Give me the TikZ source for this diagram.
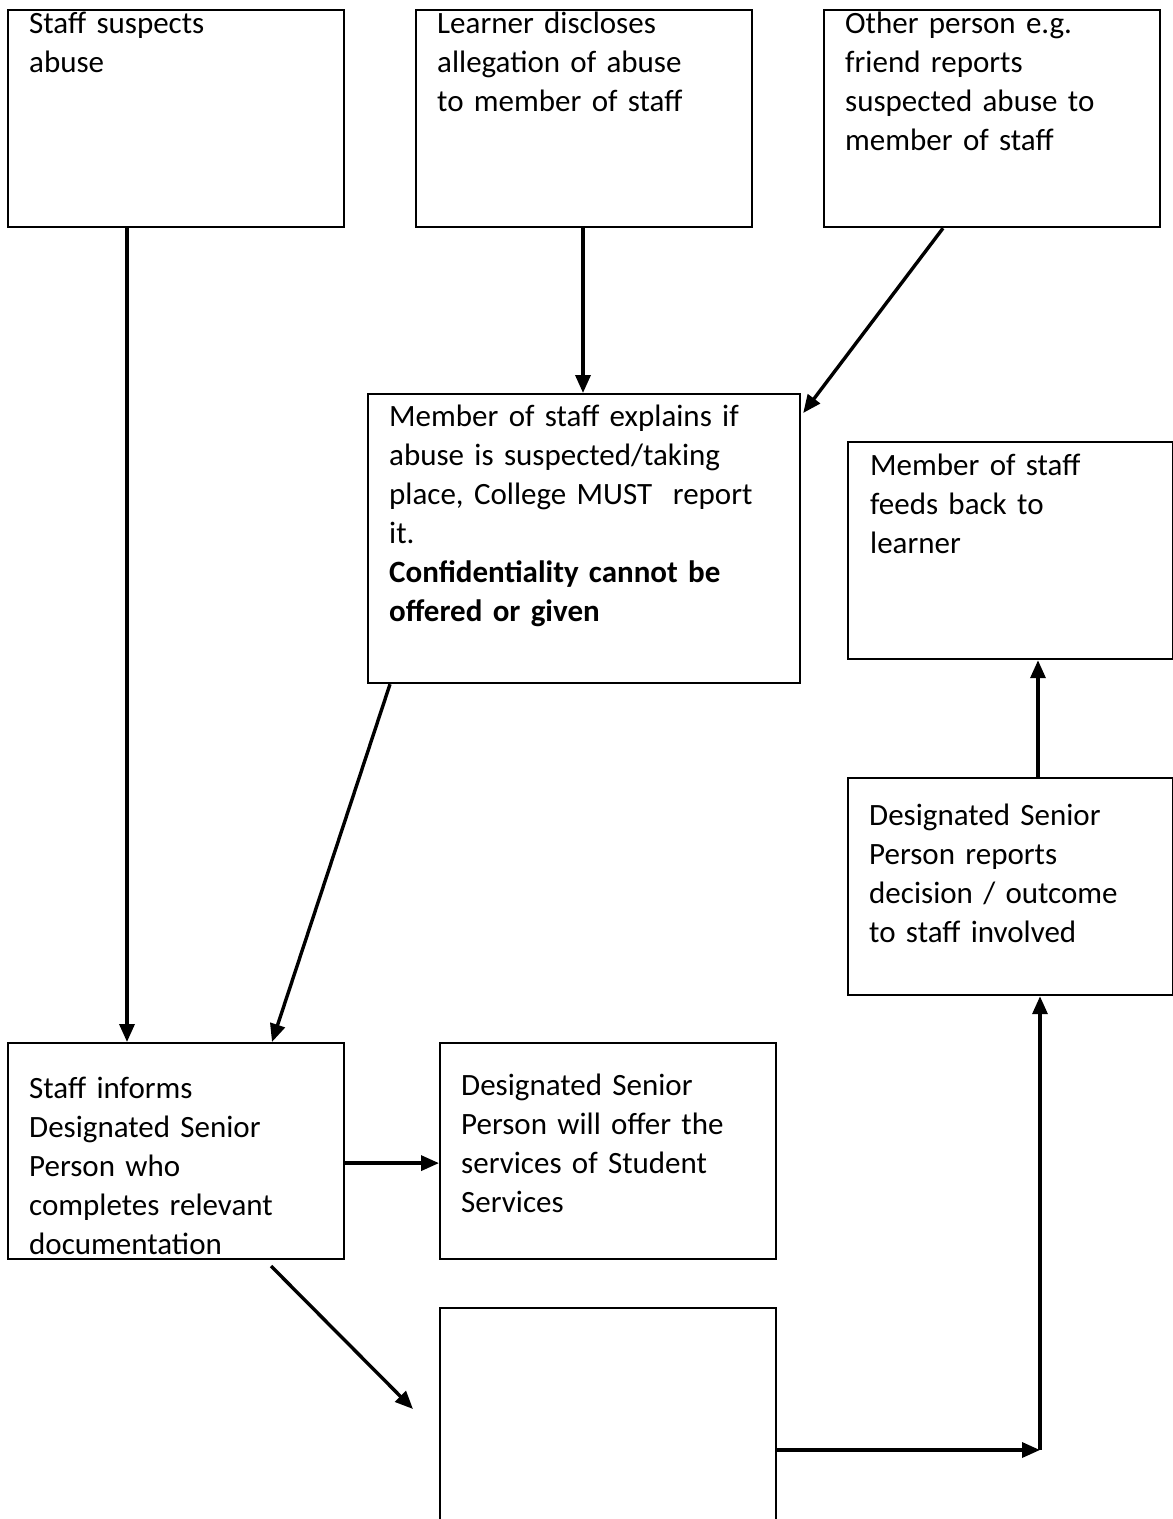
\documentclass[tikz,border=0pt]{standalone}
\usepackage{fontspec}
\setmainfont{Carlito}
\usetikzlibrary{arrows.meta,calc}

\begin{document}
\begin{tikzpicture}[x=1pt,y=-1pt,
    every node/.style={font=\fontsize{31}{39}\selectfont},
    box/.style={draw, line width=2.2pt, anchor=north west, inner sep=0pt},
    boxtext/.style={anchor=base west, align=left, inner sep=0pt, text width=300pt},
    flow/.style={line width=3.4pt, -{Triangle[length=18pt,width=15pt]}}]
    \useasboundingbox (0,0) rectangle (1173,1519);

    % Trois points de départ.
    \node[box, minimum width=336pt, minimum height=217pt] (suspect) at (7,9) {};
    \node[box, minimum width=336pt, minimum height=217pt] (learner) at (415,9) {};
    \node[box, minimum width=336pt, minimum height=217pt] (other) at (823,9) {};
    \node[boxtext] (suspecttxt) at ($(suspect.north west)+(22,24)$) {Staff suspects\\abuse};
    \node[boxtext] (learnertxt) at ($(learner.north west)+(22,24)$) {Learner discloses\\allegation of abuse\\to member of staff};
    \node[boxtext] (othertxt) at ($(other.north west)+(22,24)$) {Other person e.g.\\friend reports\\suspected abuse to\\member of staff};

    % Explication au jeune.
    \node[box, minimum width=432pt, minimum height=289pt] (explain) at (367,393) {};
    \node[boxtext, text width=400pt] (explaintxt) at ($(explain.north west)+(22,33)$) {Member of staff explains if\\abuse is suspected/taking\\place, College MUST\ \ report\\it.\\\textbf{Confidentiality cannot be}\\\textbf{offered or given}};

    % Colonne de droite.
    \node[box, minimum width=325pt, minimum height=217pt] (feedback) at (847,441) {};
    \node[boxtext] (feedbacktxt) at ($(feedback.north west)+(23,34)$) {Member of staff\\feeds back to\\learner};
    \node[box, minimum width=325pt, minimum height=217pt] (reports) at (847,777) {};
    \node[boxtext] (reportstxt) at ($(reports.north west)+(22,48)$) {Designated Senior\\Person reports\\decision / outcome\\to staff involved};

    % Bas de page.
    \node[box, minimum width=336pt, minimum height=216pt] (informs) at (7,1042) {};
    \node[boxtext] (informstxt) at ($(informs.north west)+(22,56)$) {Staff informs\\Designated Senior\\Person who\\completes relevant\\documentation};
    \node[box, minimum width=336pt, minimum height=216pt] (offer) at (439,1042) {};
    \node[boxtext] (offertxt) at ($(offer.north west)+(22,53)$) {Designated Senior\\Person will offer the\\services of Student\\Services};
    \node[box, minimum width=336pt, minimum height=260pt] (blank) at (439,1307) {};

    \coordinate (fromdoc) at (271,1266);
    \coordinate (todoc) at (413,1409);
    \coordinate (corner) at (1040,1450);

    % Flèches.
    \draw[flow] ($(suspect.south west)+(120,0)$) -- ($(informs.north west)+(120,0)$);
    \draw[flow] ($(learner.south west)+(168,0)$) -- ($(explain.north west)+(216,0)$);
    \draw[flow] ($(other.south west)+(120,0)$) -- ($(explain.north east)+(2,20)$);
    \draw[flow] ($(explain.south west)+(23,0)$) -- ($(informs.north west)+(265,0)$);
    \draw[flow] ($(informs.east)+(0,12)$) -- ($(offer.west)+(0,12)$);
    \draw[flow] (fromdoc) -- (todoc);
    \draw[flow] ($(blank.north east)+(0,143)$) -- (corner);
    \draw[flow] (corner) -- ($(reports.south west)+(193,0)$);
    \draw[flow] ($(reports.north west)+(191,0)$) -- ($(feedback.south west)+(191,0)$);
\end{tikzpicture}
\end{document}
